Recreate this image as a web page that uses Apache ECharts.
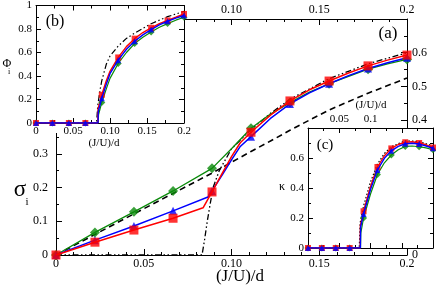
<!DOCTYPE html>
<html><head><meta charset="utf-8">
<script src="https://cdn.jsdelivr.net/npm/echarts@6/dist/echarts.min.js"></script>
<style>html,body{margin:0;padding:0;background:#fff}#c{width:436px;height:288px}</style>
</head><body><div id="c"></div>
<script>
// ---------- data ----------
const markerX = [0, 0.0222, 0.0444, 0.0667, 0.0889, 0.1111, 0.1333, 0.1556, 0.1778, 0.2];

// main panel (a): sigma_i
const sigRedMk   = [0, 0.038, 0.074, 0.109, 0.187, 0.364, 0.457, 0.516, 0.561, 0.593];
const sigBlueMk  = [0, 0.044, 0.086, 0.131, 0.190, 0.351, 0.448, 0.508, 0.553, 0.585];
const sigGreenMk = [0, 0.067, 0.128, 0.190, 0.257, 0.376, 0.452, 0.508, 0.551, 0.580];
const sigRedCurve = [[0,0],[0.0222,0.038],[0.0444,0.074],[0.0667,0.109],[0.0838,0.14],[0.0889,0.187],[0.095,0.245],[0.1,0.292],[0.105,0.333],[0.1111,0.364],[0.1222,0.415],[0.1333,0.457],[0.1444,0.49],[0.1556,0.516],[0.1667,0.54],[0.1778,0.561],[0.1889,0.578],[0.2,0.593]];
const sigBlueCurve = [[0,0],[0.0222,0.044],[0.0444,0.086],[0.0667,0.131],[0.0866,0.172],[0.0889,0.19],[0.095,0.24],[0.1,0.282],[0.105,0.322],[0.1111,0.351],[0.1222,0.405],[0.1333,0.448],[0.1444,0.481],[0.1556,0.508],[0.1667,0.532],[0.1778,0.553],[0.1889,0.57],[0.2,0.585]];
const sigGreenCurve = [[0,0],[0.0222,0.067],[0.0444,0.128],[0.0667,0.19],[0.0889,0.257],[0.1,0.315],[0.1111,0.376],[0.1222,0.418],[0.1333,0.452],[0.1444,0.483],[0.1556,0.508],[0.1667,0.53],[0.1778,0.551],[0.1889,0.567],[0.2,0.58]];
const sigDashed = [[0,0],[0.0444,0.122],[0.0889,0.243],[0.1,0.275],[0.1111,0.307],[0.1222,0.338],[0.1333,0.37],[0.1444,0.4],[0.1556,0.43],[0.1778,0.48],[0.2,0.525]];
const sigDashDot = [[0,0],[0.0832,0],[0.0845,0.04],[0.0862,0.1],[0.0878,0.15],[0.0895,0.2],[0.093,0.25],[0.1,0.315],[0.1111,0.372],[0.1222,0.42],[0.1333,0.462],[0.1556,0.523],[0.1778,0.567],[0.2,0.6]];

// inset (b): Phi_i
const phiRedMk   = [0, 0, 0, 0, 0.24, 0.558, 0.718, 0.81, 0.873, 0.928];
const phiBlueMk  = [0, 0, 0, 0, 0.21, 0.535, 0.696, 0.795, 0.866, 0.915];
const phiGreenMk = [0, 0, 0, 0, 0.175, 0.507, 0.676, 0.775, 0.846, 0.9];
const phiRedCurve = [[0,0],[0.0835,0],[0.0838,0.12],[0.0889,0.24],[0.095,0.36],[0.1,0.44],[0.1111,0.558],[0.1222,0.65],[0.1333,0.718],[0.1444,0.77],[0.1556,0.81],[0.1667,0.845],[0.1778,0.873],[0.1889,0.9],[0.2,0.928]];
const phiBlueCurve = [[0,0],[0.0838,0],[0.0842,0.1],[0.0889,0.21],[0.095,0.33],[0.1,0.42],[0.1111,0.535],[0.1222,0.628],[0.1333,0.696],[0.1444,0.75],[0.1556,0.795],[0.1667,0.835],[0.1778,0.866],[0.1889,0.893],[0.2,0.915]];
const phiGreenCurve = [[0,0],[0.084,0],[0.0845,0.07],[0.0889,0.175],[0.095,0.29],[0.1,0.38],[0.1111,0.507],[0.1222,0.6],[0.1333,0.676],[0.1444,0.73],[0.1556,0.775],[0.1667,0.815],[0.1778,0.846],[0.1889,0.875],[0.2,0.9]];
const phiDashDot = [[0,0],[0.0818,0],[0.0835,0.15],[0.0865,0.28],[0.0889,0.36],[0.095,0.5],[0.1,0.57],[0.1111,0.655],[0.1222,0.72],[0.1333,0.765],[0.1556,0.845],[0.1778,0.905],[0.2,0.95]];

// inset (c): kappa
const kRedMk   = [0, 0, 0, 0, 0.245, 0.54, 0.664, 0.705, 0.70, 0.67];
const kBlueMk  = [0, 0, 0, 0, 0.227, 0.52, 0.648, 0.695, 0.693, 0.665];
const kGreenMk = [0, 0, 0, 0, 0.2, 0.49, 0.62, 0.677, 0.675, 0.655];
const kRedCurve = [[0,0],[0.0835,0],[0.0838,0.15],[0.0889,0.245],[0.1,0.41],[0.1111,0.54],[0.1222,0.615],[0.1333,0.664],[0.1444,0.69],[0.1556,0.705],[0.1667,0.708],[0.1778,0.70],[0.1889,0.688],[0.2,0.67]];
const kBlueCurve = [[0,0],[0.0838,0],[0.0842,0.14],[0.0889,0.227],[0.1,0.39],[0.1111,0.52],[0.1222,0.598],[0.1333,0.648],[0.1444,0.678],[0.1556,0.695],[0.1667,0.698],[0.1778,0.693],[0.1889,0.68],[0.2,0.665]];
const kGreenCurve = [[0,0],[0.084,0],[0.0845,0.1],[0.0889,0.2],[0.1,0.36],[0.1111,0.49],[0.1222,0.568],[0.1333,0.62],[0.1444,0.655],[0.1556,0.677],[0.1667,0.68],[0.1778,0.675],[0.1889,0.667],[0.2,0.655]];
const kDashDot = [[0,0],[0.082,0],[0.0835,0.17],[0.0889,0.28],[0.1,0.44],[0.1111,0.56],[0.1222,0.63],[0.1333,0.675],[0.1556,0.715],[0.1778,0.71],[0.2,0.68]];

// tick labels
const xTickLabels = ['0', '0.05', '0.10', '0.15', '0.2'];
const xTickLabelsC = ['', '0.05', '0.1', '', ''];
const sigTickLabels = ['0', '0.1', '0.2', '0.3', '0.4', '0.5', '0.6', '0.7'];
const sigRightLabels = ['0', '0.1', '0.2', '0.3', '0.4', '0.5', '0.6', ''];
const phiTickLabels = ['0', '0.2', '0.4', '0.6', '0.8', '1'];
const kTickLabels = ['0', '0.2', '0.4', '0.6', ''];

// ---------- chart ----------
const FONT = 'Liberation Serif';
const RED = '#ff0000', BLUE = '#0000ff', GREEN = '#0a8a0a';
const zip = (xs, ys) => xs.map((x, i) => [x, ys[i]]);

function xAxis(grid, pos, step, labels, z, fs, tickLen, minorLen, minorSplit) {
  return {
    type: 'value', gridIndex: grid, position: pos, min: 0, max: 0.2, interval: step, z: z,
    axisLine: {show: true, onZero: false, lineStyle: {color: '#000', width: 1}},
    axisTick: {show: true, inside: true, length: tickLen, lineStyle: {color: '#000'}},
    minorTick: {show: true, splitNumber: minorSplit, length: minorLen, lineStyle: {color: '#000'}},
    splitLine: {show: false},
    axisLabel: labels ? {show: true, margin: 3, fontFamily: FONT, fontSize: fs, color: '#000',
      showMinLabel: true, showMaxLabel: true, hideOverlap: false,
      formatter: v => labels[Math.round(v / step)] ?? ''} : {show: false}
  };
}
function yAxis(grid, pos, max, step, labels, z, fs, tickLen, minorLen, margin) {
  return {
    type: 'value', gridIndex: grid, position: pos, min: 0, max: max, interval: step, z: z,
    axisLine: {show: true, onZero: false, lineStyle: {color: '#000', width: 1}},
    axisTick: {show: true, inside: true, length: tickLen, lineStyle: {color: '#000'}},
    minorTick: {show: true, splitNumber: 2, length: minorLen, lineStyle: {color: '#000'}},
    splitLine: {show: false},
    axisLabel: labels ? {show: true, margin: margin, fontFamily: FONT, fontSize: fs, color: '#000',
      showMinLabel: true, showMaxLabel: true, hideOverlap: false,
      formatter: v => labels[Math.round(v / step)] ?? ''} : {show: false}
  };
}
function line(data, ai, color, width, type, z) {
  return {type: 'line', xAxisIndex: ai, yAxisIndex: ai, data: data, showSymbol: false, symbol: 'none',
    lineStyle: {color: color, width: width, type: type}, z: z, animation: false, silent: true};
}
function marks(data, ai, color, symbol, size, z) {
  return {type: 'scatter', xAxisIndex: ai, yAxisIndex: ai, data: data, symbol: symbol, symbolSize: size,
    itemStyle: {color: color}, z: z, clip: false, animation: false, silent: true};
}
const dashDot = [6, 2.5, 1.5, 2.5, 1.5, 2.5];
const A = 0, B = 2, C = 4; // axis indices of each panel

const option = {
  animation: false,
  grid: [
    {left: 56, top: 19, width: 351, height: 236},
    {left: 36, top: 5, width: 148, height: 118},
    {left: 308, top: 128, width: 125, height: 120}
  ],
  xAxis: [
    xAxis(0, 'bottom', 0.05, xTickLabels, 1, 12, 6, 3, 5),
    xAxis(0, 'top', 0.05, xTickLabels, 1, 12, 6, 3, 5),
    xAxis(1, 'bottom', 0.05, xTickLabels, 6, 11, 5, 3, 2),
    xAxis(1, 'top', 0.05, null, 6, 11, 5, 3, 2),
    xAxis(2, 'bottom', 0.05, null, 6, 11, 5, 3, 2),
    xAxis(2, 'top', 0.05, xTickLabelsC, 6, 11, 5, 3, 2)
  ],
  yAxis: [
    yAxis(0, 'left', 0.7, 0.1, sigTickLabels, 1, 12, 6, 3, 8),
    yAxis(0, 'right', 0.7, 0.1, sigRightLabels, 1, 12, 6, 3, 5),
    yAxis(1, 'left', 1, 0.2, phiTickLabels, 6, 11, 5, 3, 4),
    yAxis(1, 'right', 1, 0.2, null, 6, 11, 5, 3, 4),
    yAxis(2, 'left', 0.8, 0.2, kTickLabels, 6, 11, 5, 3, 4),
    yAxis(2, 'right', 0.8, 0.2, null, 6, 11, 5, 3, 4)
  ],
  graphic: [
    {type: 'rect', z: 5, shape: {x: 0, y: 0, width: 185, height: 133}, style: {fill: '#fff'}, silent: true},
    {type: 'rect', z: 5, shape: {x: 308, y: 128, width: 128, height: 121}, style: {fill: '#fff'}, silent: true},
    {type: 'text', z: 9, x: 388, y: 34, style: {text: '(a)', font: '17px "Liberation Serif"', fill: '#000', align: 'center', verticalAlign: 'middle'}},
    {type: 'text', z: 9, x: 55, y: 22, style: {text: '(b)', font: '16px "Liberation Serif"', fill: '#000', align: 'center', verticalAlign: 'middle'}},
    {type: 'text', z: 9, x: 325, y: 145, style: {text: '(c)', font: '15px "Liberation Serif"', fill: '#000', align: 'center', verticalAlign: 'middle'}},
    {type: 'text', z: 9, x: 240, y: 277, style: {text: '(J/U)/d', font: '17px "Liberation Serif"', fill: '#000', align: 'center', verticalAlign: 'middle'}},
    {type: 'text', z: 9, x: 104, y: 143, style: {text: '(J/U)/d', font: '11px "Liberation Serif"', fill: '#000', align: 'center', verticalAlign: 'middle'}},
    {type: 'text', z: 9, x: 371, y: 105, style: {text: '(J/U)/d', font: '11px "Liberation Serif"', fill: '#000', align: 'center', verticalAlign: 'middle'}},
    {type: 'text', z: 9, x: 20, y: 190, style: {text: 'σ', font: '23px "Liberation Serif"', fill: '#000', align: 'center', verticalAlign: 'middle'}},
    {type: 'text', z: 9, x: 27, y: 202, style: {text: 'i', font: '11px "Liberation Serif"', fill: '#000', align: 'center', verticalAlign: 'middle'}},
    {type: 'text', z: 9, x: 7, y: 64, style: {text: 'Φ', font: '12px "Liberation Serif"', fill: '#000', align: 'center', verticalAlign: 'middle'}},
    {type: 'text', z: 9, x: 9, y: 72, style: {text: 'i', font: '8px "Liberation Serif"', fill: '#000', align: 'center', verticalAlign: 'middle'}},
    {type: 'text', z: 9, x: 282, y: 187, style: {text: 'κ', font: '12px "Liberation Serif"', fill: '#000', align: 'center', verticalAlign: 'middle'}}
  ],
  series: [
    // main
    line(sigDashed, A, '#000', 1.6, [6, 4], 2),
    line(sigDashDot, A, '#000', 1.3, dashDot, 2),
    line(sigGreenCurve, A, GREEN, 1.3, 'solid', 3),
    marks(zip(markerX, sigGreenMk), A, GREEN, 'diamond', 10, 3),
    line(sigBlueCurve, A, BLUE, 1.5, 'solid', 3),
    marks(zip(markerX, sigBlueMk), A, BLUE, 'triangle', 8, 3),
    line(sigRedCurve, A, RED, 1.5, 'solid', 4),
    marks(zip(markerX, sigRedMk), A, RED, 'rect', 9, 4),
    // inset b
    line(phiDashDot, B, '#000', 1.2, dashDot, 7),
    line(phiGreenCurve, B, GREEN, 1.2, 'solid', 7),
    marks(zip(markerX, phiGreenMk), B, GREEN, 'diamond', 7, 7),
    line(phiRedCurve, B, RED, 1.4, 'solid', 7),
    marks(zip(markerX, phiRedMk), B, RED, 'rect', 6, 7),
    line(phiBlueCurve, B, BLUE, 1.4, 'solid', 8),
    marks(zip(markerX, phiBlueMk), B, BLUE, 'triangle', 6, 8),
    // inset c
    line(kDashDot, C, '#000', 1.2, [1.5, 2], 7),
    line(kGreenCurve, C, GREEN, 1.2, 'solid', 7),
    marks(zip(markerX, kGreenMk), C, GREEN, 'diamond', 7, 7),
    line(kRedCurve, C, RED, 1.4, 'solid', 7),
    marks(zip(markerX, kRedMk), C, RED, 'rect', 6, 7),
    line(kBlueCurve, C, BLUE, 1.4, 'solid', 8),
    marks(zip(markerX, kBlueMk), C, BLUE, 'triangle', 6, 8)
  ]
};
const chart = echarts.init(document.getElementById('c'), null, {renderer: 'canvas'});
chart.setOption(option);
</script></body></html>
